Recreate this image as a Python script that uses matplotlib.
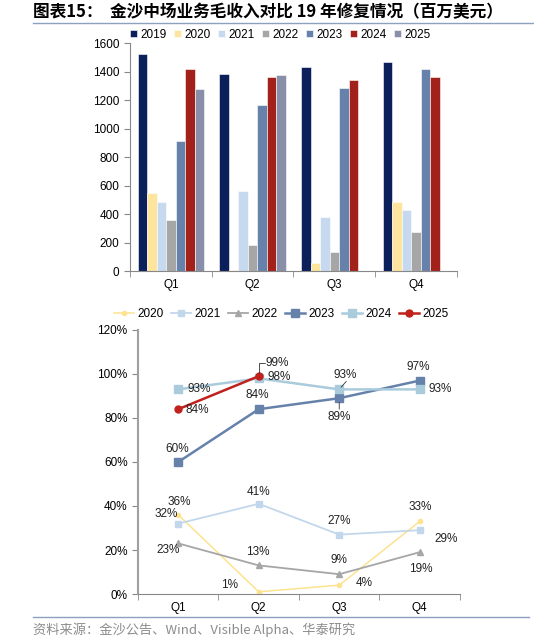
import numpy as np
import matplotlib.pyplot as plt
from matplotlib.lines import Line2D

plt.rcParams['font.family'] = ['Liberation Sans', 'Noto Sans CJK SC', 'DejaVu Sans']
plt.rcParams['font.size'] = 8.5

# data
quarters = ['Q1', 'Q2', 'Q3', 'Q4']
bar_years = ['2019', '2020', '2021', '2022', '2023', '2024', '2025']
rev_2019 = [1520, 1385, 1435, 1465]
rev_2020 = [550, 10, 55, 485]
rev_2021 = [485, 565, 380, 430]
rev_2022 = [355, 185, 135, 275]
rev_2023 = [910, 1165, 1285, 1415]
rev_2024 = [1415, 1365, 1340, 1365]
rev_2025 = [1280, 1375]

line_years = ['2020', '2021', '2022', '2023', '2024', '2025']
pct_2020 = [0.36, 0.01, 0.04, 0.33]
pct_2021 = [0.32, 0.41, 0.27, 0.29]
pct_2022 = [0.23, 0.13, 0.09, 0.19]
pct_2023 = [0.60, 0.84, 0.89, 0.97]
pct_2024 = [0.93, 0.98, 0.93, 0.93]
pct_2025 = [0.84, 0.99]

bar_colors = ['#0b1f5b', '#fde59d', '#c6d9ee', '#a6a6a6', '#6782aa', '#a3211b', '#8a8fa9']

# style of each line: colour, marker, marker size, line width
line_styles = [
    ('#fde28f', 'o', 3, 1.1),
    ('#c3d7ec', 's', 4.5, 1.3),
    ('#a6a6a6', '^', 4.5, 1.3),
    ('#6782aa', 's', 6, 1.8),
    ('#a9cbdb', 's', 5.5, 1.8),
    ('#c0211c', 'o', 5, 1.8),
]
# label offsets in pixels for each point
label_offsets = [
    [(1, 13), (-29, 7), (25, 2), (0, 14)],
    [(-12, 10), (0, 12), (0, 14), (26, -9)],
    [(-10, -7), (-1, 13), (0, 14), (1, -17)],
    [(-1, 13), (-1, 14), (0, -19), (-1, 14)],
    [(21, 0), (20, 1), (6, 14), (20, 0)],
    [(19, -1), (18, 13)],
]

fig = plt.figure(figsize=(5.34, 6.43), dpi=100)

fig.text(0.062, 0.981, '图表15：  金沙中场业务毛收入对比 19 年修复情况（百万美元）',
         fontsize=12, fontweight='bold', va='center', ha='left',
         family=['Noto Sans CJK SC', 'DejaVu Sans'])
fig.add_artist(Line2D([0.062, 1.0], [0.964, 0.964], color='#8aa2bf', lw=1.0))
fig.add_artist(Line2D([0.062, 0.99], [0.040, 0.040], color='#8aa2bf', lw=1.0))
fig.text(0.062, 0.020, '资料来源：金沙公告、Wind、Visible Alpha、华泰研究',
         fontsize=9.5, color='#8c8c8c', va='center', ha='left',
         family=['Noto Sans CJK SC', 'DejaVu Sans'])

# bar chart
ax1 = fig.add_axes([0.2434, 0.5785, 0.6124, 0.3546])
bar_series = [rev_2019, rev_2020, rev_2021, rev_2022, rev_2023, rev_2024, rev_2025]
x = np.arange(len(quarters))
w = 0.116
for i, (yr, vals) in enumerate(zip(bar_years, bar_series)):
    pos = x[:len(vals)] + (i - 3) * w
    ax1.bar(pos, vals, width=w, color=bar_colors[i], label=yr,
            edgecolor='white', linewidth=0.4)
ax1.set_xlim(-0.5, 3.5)
ax1.set_ylim(0, 1600)
ax1.set_yticks(np.arange(0, 1601, 200))
ax1.set_xticks(x)
ax1.set_xticklabels(quarters)
ax1.set_xticks(np.arange(-0.5, 3.6, 1), minor=True)
ax1.tick_params(axis='x', which='major', length=0, pad=6)
ax1.tick_params(axis='x', which='minor', length=4, color='#888888', direction='out')
ax1.tick_params(axis='y', length=4, color='#888888', direction='out')
for s in ['top', 'right']:
    ax1.spines[s].set_visible(False)
for s in ['left', 'bottom']:
    ax1.spines[s].set_color('#888888')
    ax1.spines[s].set_linewidth(0.8)
ax1.legend(loc='lower center', bbox_to_anchor=(0.46, 0.99), ncol=7, frameon=False,
           handlelength=0.6, handleheight=0.6, handletextpad=0.3, columnspacing=0.6,
           fontsize=8.5, borderaxespad=0)

# line chart
ax2 = fig.add_axes([0.2584, 0.0762, 0.6030, 0.4106])
line_series = [pct_2020, pct_2021, pct_2022, pct_2023, pct_2024, pct_2025]
for i, (yr, vals) in enumerate(zip(line_years, line_series)):
    c, m, ms, lw = line_styles[i]
    xs = x[:len(vals)]
    ax2.plot(xs, vals, color=c, marker=m, markersize=ms, lw=lw, label=yr)
    for j, v in enumerate(vals):
        dx, dy = label_offsets[i][j]
        ax2.annotate(f'{v * 100:.0f}%', (xs[j], v), xytext=(dx, dy),
                     textcoords='offset pixels', ha='center', va='center',
                     fontsize=8.5, color='#222222')

# small leader lines
ax2.annotate('', (1, pct_2025[1]), xytext=(9, 13), textcoords='offset pixels',
             arrowprops=dict(arrowstyle='-', color='#333333', lw=0.6,
                             connectionstyle='angle,angleA=0,angleB=90,rad=0'))
ax2.annotate('', (2, pct_2024[2]), xytext=(7, 8), textcoords='offset pixels',
             arrowprops=dict(arrowstyle='-', color='#333333', lw=0.6,
                             shrinkA=0, shrinkB=2))
ax2.annotate('', (2, pct_2023[2]), xytext=(0, -11), textcoords='offset pixels',
             arrowprops=dict(arrowstyle='-', color='#333333', lw=0.6,
                             shrinkA=0, shrinkB=3))

ax2.set_xlim(-0.5, 3.5)
ax2.set_ylim(0, 1.2)
ax2.set_yticks(np.arange(0, 1.21, 0.2))
ax2.set_yticklabels([f'{t * 100:.0f}%' for t in np.arange(0, 1.21, 0.2)])
ax2.set_xticks(x)
ax2.set_xticklabels(quarters)
ax2.set_xticks(np.arange(-0.5, 3.6, 1), minor=True)
ax2.tick_params(axis='x', which='major', length=0, pad=6)
ax2.tick_params(axis='x', which='minor', length=4, color='#888888', direction='out')
ax2.tick_params(axis='y', length=4, color='#888888', direction='out')
for s in ['top', 'right']:
    ax2.spines[s].set_visible(False)
ax2.spines['left'].set_color('#a0a0a0')
ax2.spines['left'].set_linewidth(1.5)
ax2.spines['bottom'].set_color('#888888')
ax2.spines['bottom'].set_linewidth(0.8)
ax2.legend(loc='lower center', bbox_to_anchor=(0.445, 1.02), ncol=6, frameon=False,
           handlelength=1.7, handletextpad=0.3, columnspacing=0.6,
           fontsize=8.5, borderaxespad=0)

fig.savefig('out.png', dpi=100)
